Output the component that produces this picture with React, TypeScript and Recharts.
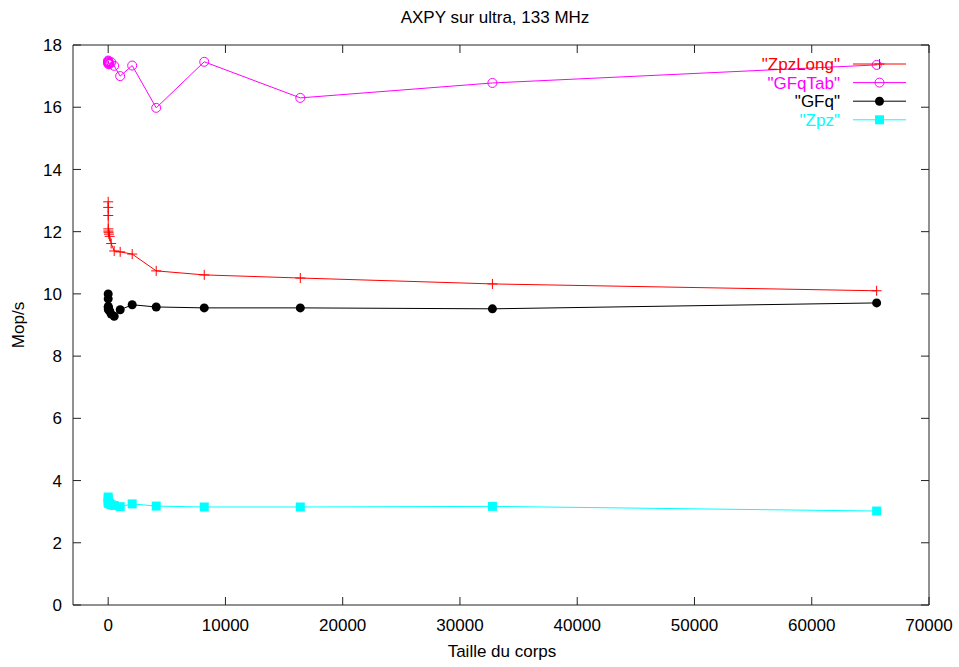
import { Line, LineChart, XAxis, YAxis } from "recharts";

// body size (x) and Mop/s for each program
const sizes = [1, 2, 4, 8, 16, 32, 64, 128, 256, 512, 1024, 2048, 4096, 8192, 16384, 32768, 65536];
const zpzLong = [12.96, 12.78, 12.52, 12.09, 12.02, 11.98, 11.92, 11.85, 11.62, 11.38, 11.35, 11.28, 10.74, 10.61, 10.51, 10.32, 10.1];
const gfqTab = [17.5, 17.45, 17.4, 17.48, 17.42, 17.45, 17.38, 17.4, 17.45, 17.33, 17.0, 17.34, 15.98, 17.46, 16.3, 16.78, 17.36];
const gfq = [10.0, 9.84, 9.56, 9.6, 9.5, 9.55, 9.48, 9.45, 9.35, 9.28, 9.49, 9.65, 9.58, 9.55, 9.55, 9.52, 9.71];
const zpz = [3.47, 3.4, 3.31, 3.3, 3.28, 3.3, 3.27, 3.25, 3.22, 3.2, 3.16, 3.25, 3.18, 3.15, 3.15, 3.17, 3.02];

const xTicks = [0, 10000, 20000, 30000, 40000, 50000, 60000, 70000];
const yTicks = [0, 2, 4, 6, 8, 10, 12, 14, 16, 18];

const chartData = sizes.map((size, i) => ({
  size,
  zpzLong: zpzLong[i],
  gfqTab: gfqTab[i],
  gfq: gfq[i],
  zpz: zpz[i],
}));

const series = [
  { key: "zpzLong", name: '"ZpzLong"', color: "#ff0000", marker: "plus" },
  { key: "gfqTab", name: '"GFqTab"', color: "#ff00ff", marker: "circle" },
  { key: "gfq", name: '"GFq"', color: "#000000", marker: "dot" },
  { key: "zpz", name: '"Zpz"', color: "#00ffff", marker: "square" },
];

const FONT = '"Liberation Sans", Arial, sans-serif';
const FONT_SIZE = 17;
const TICK_LEN = 8;
const AXIS_COLOR = "#222";

function Marker({ kind, cx, cy, color }: any) {
  if (cx == null || cy == null) return null;
  if (kind === "plus") {
    return (
      <g stroke={color} strokeWidth={1}>
        <line x1={cx - 5} y1={cy} x2={cx + 5} y2={cy} />
        <line x1={cx} y1={cy - 5} x2={cx} y2={cy + 5} />
      </g>
    );
  }
  if (kind === "circle") {
    return <circle cx={cx} cy={cy} r={4.5} fill="none" stroke={color} strokeWidth={1} />;
  }
  if (kind === "dot") {
    return <circle cx={cx} cy={cy} r={4.5} fill={color} stroke="none" />;
  }
  return <rect x={cx - 4.5} y={cy - 4.5} width={9} height={9} fill={color} />;
}

function BottomTick({ x, y, payload }: any) {
  return (
    <g>
      <line x1={x} y1={y} x2={x} y2={y - TICK_LEN} stroke={AXIS_COLOR} />
      <text x={x} y={y + 20} dy="0.36em" textAnchor="middle" fontFamily={FONT} fontSize={FONT_SIZE} fill="#000">
        {payload.value}
      </text>
    </g>
  );
}

function LeftTick({ x, y, payload }: any) {
  return (
    <g>
      <line x1={x} y1={y} x2={x + TICK_LEN} y2={y} stroke={AXIS_COLOR} />
      <text x={x - 11} y={y} dy="0.36em" textAnchor="end" fontFamily={FONT} fontSize={FONT_SIZE} fill="#000">
        {payload.value}
      </text>
    </g>
  );
}

function TopTick({ x, y }: any) {
  return <line x1={x} y1={y} x2={x} y2={y + TICK_LEN} stroke={AXIS_COLOR} />;
}

function RightTick({ x, y }: any) {
  return <line x1={x} y1={y} x2={x - TICK_LEN} y2={y} stroke={AXIS_COLOR} />;
}

export default function App() {
  const legendX = 840;
  const legendY = 64;
  const legendStep = 18.6;

  return (
    <div style={{ position: "absolute", left: 0, top: 0, width: 959, height: 667, background: "#fff" }}>
      <LineChart width={959} height={667} data={chartData} margin={{ top: 0, right: 0, bottom: 0, left: 0 }}>
        <XAxis
          dataKey="size"
          type="number"
          domain={[-3000, 70000]}
          ticks={xTicks}
          interval={0}
          height={62}
          tickSize={0}
          tickMargin={0}
          tickLine={false}
          axisLine={{ stroke: AXIS_COLOR }}
          tick={BottomTick}
          allowDataOverflow
        />
        <XAxis
          xAxisId="top"
          orientation="top"
          dataKey="size"
          type="number"
          domain={[-3000, 70000]}
          ticks={xTicks}
          interval={0}
          height={45}
          tickSize={0}
          tickMargin={0}
          tickLine={false}
          axisLine={{ stroke: AXIS_COLOR }}
          tick={TopTick}
          allowDataOverflow
        />
        <YAxis
          type="number"
          domain={[0, 18]}
          ticks={yTicks}
          interval={0}
          width={73}
          tickSize={0}
          tickMargin={0}
          tickLine={false}
          axisLine={{ stroke: AXIS_COLOR }}
          tick={LeftTick}
          allowDataOverflow
        />
        <YAxis
          yAxisId="right"
          orientation="right"
          type="number"
          domain={[0, 18]}
          ticks={yTicks}
          interval={0}
          width={30}
          tickSize={0}
          tickMargin={0}
          tickLine={false}
          axisLine={{ stroke: AXIS_COLOR }}
          tick={RightTick}
          allowDataOverflow
        />
        {series.map((s) => (
          <Line
            key={s.key}
            type="linear"
            dataKey={s.key}
            stroke={s.color}
            strokeWidth={1}
            dot={(p: any) => <Marker key={`${s.key}-${p.index}`} kind={s.marker} cx={p.cx} cy={p.cy} color={s.color} />}
            activeDot={false}
            isAnimationActive={false}
          />
        ))}
      </LineChart>

      <svg
        width={959}
        height={667}
        style={{ position: "absolute", left: 0, top: 0, pointerEvents: "none" }}
        fontFamily={FONT}
        fontSize={FONT_SIZE}
      >
        <text x={495} y={17} dy="0.36em" textAnchor="middle" fill="#000">
          AXPY sur ultra, 133 MHz
        </text>
        <text x={502} y={651} dy="0.36em" textAnchor="middle" fill="#000">
          Taille du corps
        </text>
        <text x={18} y={325} dy="0.36em" textAnchor="middle" fill="#000" transform="rotate(-90 18 325)">
          Mop/s
        </text>

        {series.map((s, i) => {
          const y = legendY + i * legendStep;
          return (
            <g key={s.key}>
              <text x={legendX} y={y} dy="0.36em" textAnchor="end" fill={s.color}>
                {s.name}
              </text>
              <line x1={853} y1={y} x2={906} y2={y} stroke={s.color} />
              <Marker kind={s.marker} cx={879.5} cy={y} color={s.color} />
            </g>
          );
        })}
      </svg>
    </div>
  );
}
